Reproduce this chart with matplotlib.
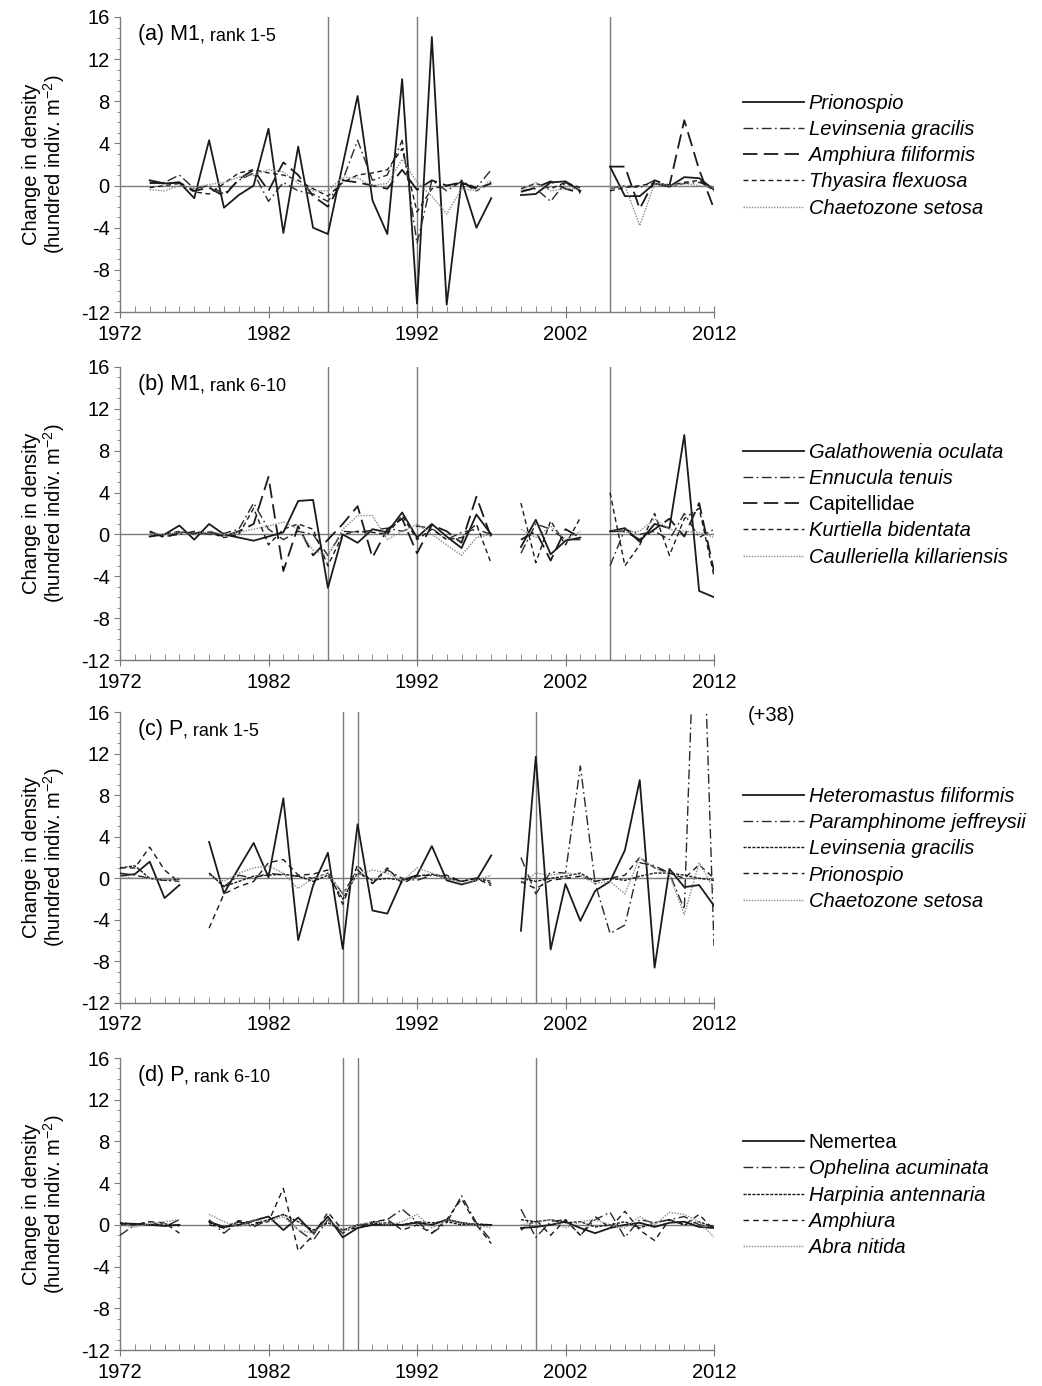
import numpy as np
import matplotlib
matplotlib.use("Agg")
import matplotlib.pyplot as plt
from matplotlib.ticker import MultipleLocator, FixedLocator

plt.rcParams['font.family'] = ['Liberation Sans', 'DejaVu Sans']
plt.rcParams['axes.unicode_minus'] = False
plt.rcParams['mathtext.default'] = 'regular'

N = np.nan
years = list(range(1972, 2013))
year_ticks = [1972, 1982, 1992, 2002, 2012]

# ---------------- Panel (a) M1, rank 1-5 ----------------
a_prionospio = [N, N, 0.5, 0.2, 0.3, -1.2, 4.3, -2.1, -0.9, 0.0, 5.4, -4.5, 3.7, -4.0, -4.6, 2.0, 8.5, -1.4, -4.6, 10.1, -11.2, 14.1, -11.3, 0.5, -4.0, -1.2,
                N, -0.9, -0.8, 0.3, 0.4, -0.5, N, 1.8, -1.0, -1.0, 0.2, -0.1, 0.8, 0.7, -0.4]
a_levinsenia = [N, N, 0.2, 0.3, 1.0, -0.3, 0.0, -0.8, 0.5, 1.2, -1.5, 0.3, -0.5, -0.8, -1.5, 0.5, 4.3, 0.5, 1.0, 4.3, -5.5, 0.5, -0.5, 0.4, -0.2, 1.5,
                N, -0.5, -0.3, -1.5, 0.3, -0.6, N, -0.3, 0.0, -0.2, 0.5, -0.1, 0.2, 0.3, -0.2]
a_amphiura = [N, N, 0.3, 0.2, 0.3, -0.5, -0.2, -1.0, 0.6, 1.5, -0.5, 2.2, 1.0, -1.0, -2.0, 0.5, 0.3, 0.0, -0.3, 1.5, -0.4, 0.5, 0.0, 0.3, -0.3, 0.2,
              N, -0.6, -0.2, 0.4, -0.3, -0.7, N, 1.8, 1.8, -2.2, 0.5, 0.0, 6.2, 1.5, -2.2]
a_thyasira = [N, N, -0.2, 0.0, 0.2, -0.6, -0.8, 0.2, 1.2, 1.5, 1.2, 1.0, 0.5, -0.3, -1.0, 0.3, 1.0, 1.2, 1.5, 3.5, -2.5, -0.3, 0.0, 0.3, -0.5, 0.3,
              N, -0.3, 0.2, -0.3, 0.3, -0.2, N, -0.5, -0.2, 0.0, 0.2, 0.0, 0.3, 0.5, -0.5]
a_chaetozone = [N, N, -0.4, -0.5, 0.0, -0.2, 0.1, 0.3, 0.8, 1.0, 1.5, 1.3, 0.2, -0.5, -0.5, 0.8, 0.7, 0.0, 0.2, 2.5, 0.3, -1.0, -2.7, -0.3, -0.5, 0.5,
                N, -0.5, 0.3, -0.5, -0.3, -0.3, N, -0.3, 0.0, -3.8, 0.2, 0.0, 0.2, 0.0, -0.2]
a_names = ["Prionospio", "Levinsenia gracilis", "Amphiura filiformis", "Thyasira flexuosa", "Chaetozone setosa"]

# ---------------- Panel (b) M1, rank 6-10 ----------------
b_galathowenia = [N, N, -0.2, 0.0, 0.85, -0.5, 1.0, 0.0, -0.3, -0.6, -0.2, 0.2, 3.2, 3.3, -5.1, 0.0, -0.8, 0.5, 0.2, 2.1, -0.3, 1.0, -0.2, -1.3, 1.9, 0.0,
                  N, -1.2, 1.4, -1.9, -0.6, -0.3, N, 0.3, 0.6, -0.7, 1.0, 0.6, 9.5, -5.4, -6.0]
b_ennucula = [N, N, 0.2, -0.2, 0.0, 0.3, 0.0, 0.1, 0.5, 3.0, 0.5, -0.5, 0.3, 0.0, -2.0, 0.3, 0.2, 0.4, 0.6, 0.3, 0.8, 0.6, -0.5, 0.2, 0.5, 0.0,
              N, -1.8, 1.0, 0.5, -0.5, -0.5, N, -3.0, 0.5, 0.0, 0.3, -0.5, 2.0, -0.3, 0.5]
b_capitellidae = [N, N, 0.3, -0.3, 0.2, 0.1, 0.3, -0.2, 0.3, 1.0, 5.5, -3.5, 0.8, -2.0, -0.5, 1.0, 2.7, -2.2, 0.5, 1.5, -1.8, 0.9, 0.3, -0.8, 3.6, -0.3,
                  N, -0.5, 0.3, -2.5, 0.5, -0.3, N, 0.3, 0.3, -0.5, 0.5, 1.5, -0.2, 3.0, -3.5]
b_kurtiella = [N, N, -0.2, 0.0, 0.3, 0.0, 0.2, -0.3, 0.0, 2.5, -1.0, 0.5, 1.0, 0.5, -3.0, 0.0, 0.3, 0.2, 0.0, 1.8, -0.5, 0.5, -0.5, -0.3, 1.0, -2.8,
               N, 3.0, -2.7, 1.3, -1.0, 1.6, N, 4.0, -3.0, -1.0, 2.0, -2.0, 1.5, 2.5, -4.0]
b_caulleriella = [N, N, 0.1, 0.0, 0.2, 0.0, 0.3, 0.0, 0.2, 0.5, 0.8, 1.2, 0.5, -1.5, -2.0, 0.5, 1.8, 1.8, -0.5, 0.3, 1.0, 0.0, -1.0, -2.0, -0.3, 0.0,
                  N, 0.5, -0.3, 0.8, -0.5, 0.3, N, 0.5, 0.2, 0.3, 1.5, 0.5, 0.3, 0.2, -0.3]
b_names = ["Galathowenia oculata", "Ennucula tenuis", "Capitellidae", "Kurtiella bidentata", "Caulleriella killariensis"]

# ---------------- Panel (c) P, rank 1-5 ----------------
c_heteromastus = [0.25, 0.4, 1.6, -1.9, -0.65, N, 3.5, -1.45, 1.0, 3.4, 0.1, 7.7, -5.95, -0.7, 2.45, -6.8, 5.2, -3.1, -3.4, -0.2, 0.3, 3.1, -0.2, -0.6, -0.2, 2.2,
                  N, -5.05, 11.7, -6.85, -0.55, -4.1, -1.2, -0.3, 2.7, 9.45, -8.6, 0.9, -0.85, -0.65, -2.65]
c_paramphinome = [0.5, 0.3, 0.0, -0.2, -0.3, N, 0.5, -0.8, 0.3, 0.0, 0.5, 0.3, 0.2, 0.0, 0.5, -1.5, 0.8, -0.5, 0.8, 0.0, -0.2, 0.3, 0.2, -0.3, 0.0, -0.5,
                  N, 2.0, -1.5, 0.6, 0.5, 10.8, -0.5, -5.3, -4.5, 1.5, 1.2, 0.5, -3.0, 38.0, -6.5]
c_levinsenia = [1.0, 1.2, 0.0, -0.2, -0.1, N, 0.5, -0.8, -0.3, 0.2, 0.3, 0.4, 0.2, -0.3, 0.3, -2.0, 0.5, -0.2, 0.0, -0.2, 0.2, 0.4, 0.0, -0.3, 0.0, -0.3,
                N, 0.0, -0.3, 0.0, 0.2, 0.5, -0.3, 0.0, -0.2, 0.2, 0.5, 0.5, 0.3, 0.0, -0.2]
c_prionospio = [1.0, 1.0, 3.0, 0.8, -0.4, N, -4.8, -1.5, -0.8, -0.3, 1.5, 1.8, 0.3, 0.4, 0.8, -2.5, 1.3, -0.5, 1.0, -0.5, 0.2, 0.3, 0.3, -0.3, 0.0, -0.7,
                N, -0.3, -1.0, -0.2, 0.0, 0.2, -0.3, 0.0, 0.3, 2.0, 1.0, 0.5, 0.0, 1.3, 0.0]
c_chaetozone = [0.2, 0.0, 0.0, -0.1, 0.0, N, 0.3, -0.3, 0.5, 1.0, 1.2, 0.5, -1.0, 0.0, 0.5, -1.5, 0.3, 0.8, 0.5, -0.3, 1.0, 0.5, 0.0, -0.5, -0.2, 0.3,
                N, -0.5, 0.5, 0.3, 0.5, 0.3, -0.5, -0.3, -1.5, 2.0, 1.0, 0.3, -3.5, 1.5, -1.0]
c_names = ["Heteromastus filiformis", "Paramphinome jeffreysii", "Levinsenia gracilis", "Prionospio", "Chaetozone setosa"]

# ---------------- Panel (d) P, rank 6-10 ----------------
d_nemertea = [0.1, 0.1, 0.0, -0.1, 0.0, N, 0.3, -0.2, 0.0, 0.4, 0.8, -0.5, 0.7, -0.8, 0.8, -1.2, -0.3, 0.0, 0.0, 0.0, 0.2, 0.0, 0.5, 0.2, 0.0, 0.0,
              N, -0.3, -0.2, 0.0, 0.3, -0.3, -0.8, -0.3, 0.0, 0.2, -0.2, 0.2, 0.3, -0.2, -0.3]
d_ophelina = [-1.0, 0.0, 0.3, -0.2, 0.5, N, 0.5, -0.8, 0.3, -0.2, 0.5, 1.0, -0.5, -1.5, 0.5, -0.8, 0.0, 0.2, 0.5, 1.5, 0.3, -0.8, 0.2, 2.8, 0.2, -1.5,
              N, 1.5, -1.2, 0.3, 0.5, -1.0, 0.5, 1.2, -1.2, 0.5, 0.2, 0.5, 0.8, 0.0, -0.2]
d_harpinia = [0.2, 0.1, 0.0, 0.1, -0.1, N, 0.2, -0.3, 0.3, 0.0, 0.5, 1.0, 0.3, -0.5, 0.2, -0.5, 0.0, 0.1, 0.2, 0.0, 0.3, 0.2, 0.3, 0.0, 0.1, 0.0,
              N, 0.5, 0.3, 0.5, 0.2, 0.3, -0.2, 0.0, 0.3, -0.3, 0.2, 0.5, 0.0, 0.3, -0.2]
d_amphiura = [0.0, 0.0, 0.3, 0.2, -0.8, N, 0.0, -0.3, 0.4, 0.2, 0.3, 3.5, -2.5, -1.0, 1.2, -0.5, -0.3, 0.3, 0.5, -0.5, 0.0, -0.8, 0.5, 2.5, 0.0, -1.8,
              N, -0.5, 0.5, -1.0, 0.5, -1.0, 0.8, -0.3, 1.3, -0.5, -1.5, 0.5, 0.0, 1.0, -0.5]
d_abra = [0.0, -0.2, 0.1, 0.3, 0.5, N, 1.0, 0.3, -0.2, 0.5, 0.3, 0.8, -0.5, -0.8, 0.5, -0.5, 0.0, 0.3, 0.0, 0.3, 1.0, -0.3, 0.5, 0.2, 0.0, -0.3,
          N, 0.0, 0.2, 0.5, -0.3, 0.3, 0.5, 0.0, -0.3, 0.8, 0.0, 1.2, 1.0, 0.3, -1.2]
d_names = ["Nemertea", "Ophelina acuminata", "Harpinia antennaria", "Amphiura", "Abra nitida"]

# vertical event lines
a_events = [1986, 1992, 2005]
c_events = [1987, 1988, 2000]

titles = [("(a) M1", ", rank 1-5"), ("(b) M1", ", rank 6-10"), ("(c) P", ", rank 1-5"), ("(d) P", ", rank 6-10")]

styles_ab = [
    dict(color='#1a1a1a', lw=1.3, ls='-'),
    dict(color='#2a2a2a', lw=1.0, ls=(0, (7, 2.5, 1.2, 2.5))),
    dict(color='#1a1a1a', lw=1.3, ls=(0, (8, 3.5))),
    dict(color='#1a1a1a', lw=1.0, ls=(0, (3.5, 2.5))),
    dict(color='#8a8a8a', lw=1.0, ls=(0, (1, 1))),
]
styles_cd = [
    dict(color='#1a1a1a', lw=1.3, ls='-'),
    dict(color='#2a2a2a', lw=1.0, ls=(0, (7, 2.5, 1.2, 2.5))),
    dict(color='#1a1a1a', lw=1.0, ls=(0, (2.2, 1.0))),
    dict(color='#1a1a1a', lw=1.0, ls=(0, (4, 3))),
    dict(color='#8a8a8a', lw=1.0, ls=(0, (1, 1))),
]

panels = [
    ([a_prionospio, a_levinsenia, a_amphiura, a_thyasira, a_chaetozone], a_names, a_events, styles_ab, []),
    ([b_galathowenia, b_ennucula, b_capitellidae, b_kurtiella, b_caulleriella], b_names, a_events, styles_ab, ["Capitellidae"]),
    ([c_heteromastus, c_paramphinome, c_levinsenia, c_prionospio, c_chaetozone], c_names, c_events, styles_cd, []),
    ([d_nemertea, d_ophelina, d_harpinia, d_amphiura, d_abra], d_names, c_events, styles_cd, ["Nemertea"]),
]

fig = plt.figure(figsize=(10.42, 13.86), dpi=100)
W, H = 1042.0, 1386.0
tops = [17, 367, 712, 1058]
bots = [312, 660, 1003, 1350]
left, right = 120, 714
grey = '#7a7a7a'

for i, (series, names, events, styles, upright) in enumerate(panels):
    ax = fig.add_axes([left / W, 1 - bots[i] / H, (right - left) / W, (bots[i] - tops[i]) / H])
    ax.set_xlim(1972, 2012)
    ax.set_ylim(-12, 16)
    ax.axhline(0, color=grey, lw=1.0, zorder=1)
    for ev in events:
        ax.axvline(ev, color=grey, lw=1.0, zorder=1)
    handles = []
    for vals, name, st in zip(series, names, styles):
        h, = ax.plot(years, vals, label=name, zorder=3, **st)
        handles.append(h)
    for sp in ['top', 'right']:
        ax.spines[sp].set_visible(False)
    for sp in ['left', 'bottom']:
        ax.spines[sp].set_color(grey)
        ax.spines[sp].set_linewidth(1.0)
    ax.xaxis.set_major_locator(FixedLocator(year_ticks))
    ax.xaxis.set_minor_locator(MultipleLocator(1))
    ax.yaxis.set_major_locator(MultipleLocator(4))
    ax.yaxis.set_minor_locator(MultipleLocator(1))
    ax.tick_params(axis='x', which='major', direction='inout', length=8, color=grey, labelsize=14.5, pad=5)
    ax.tick_params(axis='x', which='minor', direction='in', length=4, color=grey)
    ax.tick_params(axis='y', which='major', direction='out', length=4, color=grey, labelsize=14.5)
    ax.tick_params(axis='y', which='minor', direction='out', length=2.5, color=grey)
    ax.set_ylabel("Change in density\n(hundred indiv. m$^{-2}$)", fontsize=14.5, labelpad=10, linespacing=1.0)
    t1, t2 = titles[i]
    txt = ax.text(0.03, 0.94, t1, transform=ax.transAxes, fontsize=15.5, va='center', ha='left')
    ax.annotate(t2, xycoords=txt, xy=(1, 0.45), va='center', ha='left', fontsize=13)
    leg = ax.legend(handles=handles, loc='center left', bbox_to_anchor=(1.035, 0.53), frameon=False,
                    fontsize=14.5, handlelength=3.05, handletextpad=0.22, labelspacing=0.36, borderaxespad=0)
    for t in leg.get_texts():
        if t.get_text() not in upright:
            t.set_fontstyle('italic')
    if i == 2:
        ax.text(2014.3, 15.7, "(+38)", fontsize=14.5, ha='left', va='center', clip_on=False)

fig.savefig("out.png", dpi=100)
